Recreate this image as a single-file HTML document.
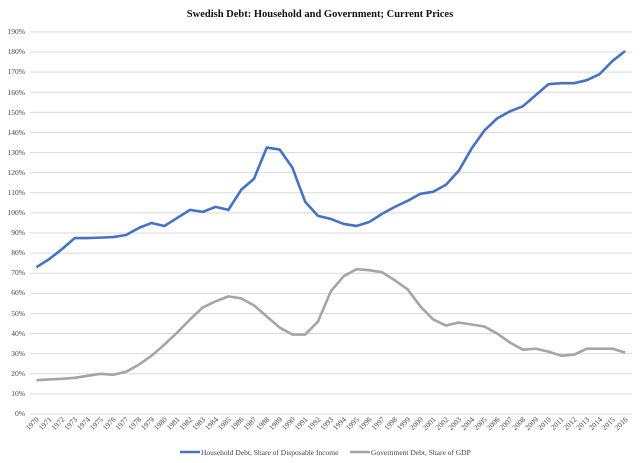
<!DOCTYPE html>
<html><head><meta charset="utf-8"><style>
body{margin:0;background:#fff}
svg{display:block;font-family:"Liberation Serif",serif}
</style></head><body>
<svg id="s" width="640" height="463" viewBox="0 0 640 463" xmlns="http://www.w3.org/2000/svg">
<rect x="0" y="0" width="640" height="463" fill="#fff"/>
<text x="320" y="17" text-anchor="middle" font-size="10.5" font-weight="bold" fill="#111">Swedish Debt: Household and Government; Current Prices</text>
<g id="grid" stroke="#d9d9d9" stroke-width="1"></g>
<g font-size="7.5" fill="#444" text-anchor="end">
<text x="25" y="416">0%</text><text x="25" y="396">10%</text><text x="25" y="376">20%</text><text x="25" y="356">30%</text><text x="25" y="336">40%</text><text x="25" y="316">50%</text><text x="25" y="295">60%</text><text x="25" y="275">70%</text><text x="25" y="255">80%</text><text x="25" y="235">90%</text><text x="25" y="215">100%</text><text x="25" y="195">110%</text><text x="25" y="175">120%</text><text x="25" y="155">130%</text><text x="25" y="135">140%</text><text x="25" y="115">150%</text><text x="25" y="95">160%</text><text x="25" y="74">170%</text><text x="25" y="54">180%</text><text x="25" y="34">190%</text>
</g>
<g id="xl" font-size="7.5" fill="#444" text-anchor="end"></g>
<polyline id="gov" fill="none" stroke="#a5a5a5" stroke-width="2.6" stroke-linejoin="round"/>
<polyline id="hh" fill="none" stroke="#4472c4" stroke-width="2.6" stroke-linejoin="round"/>
<line x1="180" y1="452" x2="200" y2="452" stroke="#4472c4" stroke-width="2.6"/>
<text x="201" y="455" font-size="7.5" fill="#444">Household Debt, Share of Disposable Income</text>
<line x1="350" y1="452" x2="370" y2="452" stroke="#a5a5a5" stroke-width="2.6"/>
<text x="371" y="455" font-size="7.5" fill="#444">Government Debt, Share of GDP</text>
</svg>
<script>
var hh=[73,77,82,87.5,87.5,87.7,88,89,92.5,95,93.5,97.5,101.5,100.5,103,101.5,111.5,117,132.5,131.5,122.5,105.5,98.5,97,94.5,93.5,95.5,99.5,103,106,109.5,110.5,114,121,132,141,147,150.5,153,158.5,164,164.5,164.5,166,169,175.5,180.5];
var gv=[16.8,17.2,17.5,18,19,20,19.5,21,24.5,29,34.5,40.5,47,53,56,58.5,57.5,54,48.5,43,39.5,39.5,46,61,68.5,72,71.5,70.5,66.5,62,53.5,47,44,45.5,44.5,43.5,40,35.5,32,32.5,31,29,29.5,32.5,32.5,32.5,30.5];
function X(i){return 36.4+12.8*i}function Y(v){return 414-v*2.011}
document.getElementById('hh').setAttribute('points',hh.map(function(v,i){return X(i)+','+Y(v)}).join(' '));
document.getElementById('gov').setAttribute('points',gv.map(function(v,i){return X(i)+','+Y(v)}).join(' '));
var g=document.getElementById('grid'),h='';
for(var k=0;k<=19;k++){var y=Y(k*10);h+='<line x1="30" x2="632" y1="'+y+'" y2="'+y+'"/>';}
g.innerHTML=h;
var xl=document.getElementById('xl'),t='';
for(var i=0;i<47;i++){var x=X(i)+3;t+='<text transform="translate('+x+',420) rotate(-45)">'+(1970+i)+'</text>';}
xl.innerHTML=t;
</script>
</body></html>
